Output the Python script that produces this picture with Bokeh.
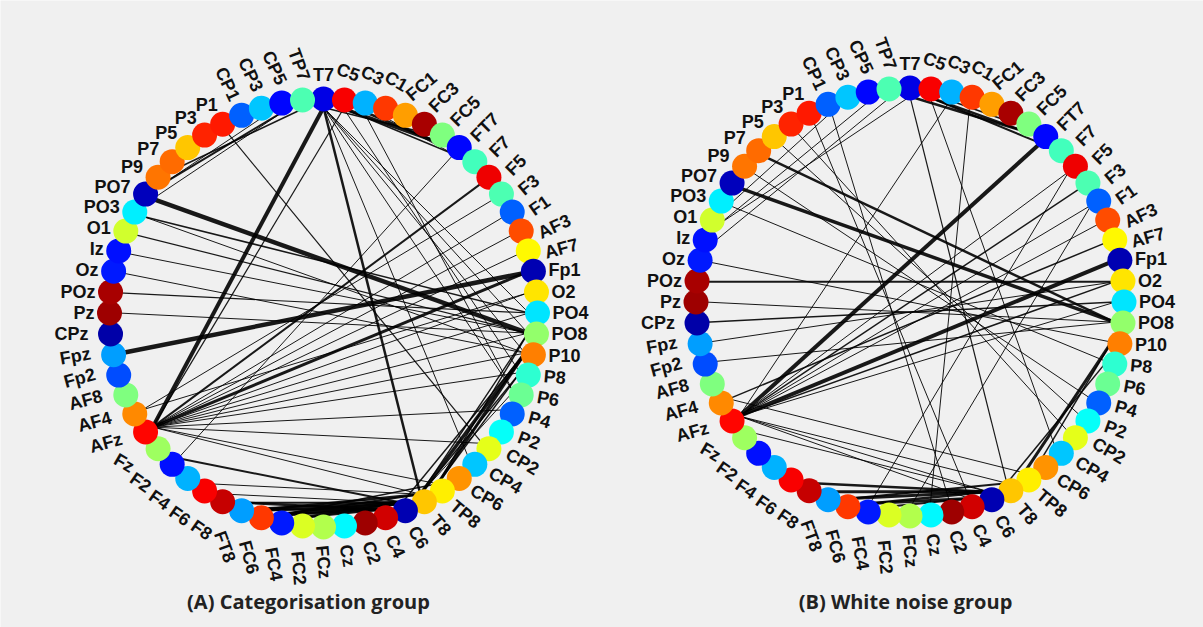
import numpy as np
from bokeh.plotting import figure
from bokeh.models import Range1d, ColumnDataSource
from bokeh.core.properties import value
from bokeh.embed import file_html
from bokeh.resources import INLINE

# ---- data -------------------------------------------------------------
# Channels in drawing order, clockwise from the top of the ring
channels = [
    "T7", "C5", "C3", "C1", "FC1", "FC3", "FC5", "FT7", "F7", "F5", "F3", "F1",
    "AF3", "AF7", "Fp1", "O2", "PO4", "PO8", "P10", "P8", "P6", "P4", "P2", "CP2",
    "CP4", "CP6", "TP8", "T8", "C6", "C4", "C2", "Cz", "FCz", "FC2", "FC4", "FC6",
    "FT8", "F8", "F6", "F4", "F2", "Fz", "AFz", "AF4", "AF8", "Fp2", "Fpz", "CPz",
    "Pz", "POz", "Oz", "Iz", "O1", "PO3", "PO7", "P9", "P7", "P5", "P3", "P1",
    "CP1", "CP3", "CP5", "TP7",
]

# Node value per channel (mapped through the jet colormap)
node_level = [
    0.10, 0.88, 0.30, 0.82, 0.72, 0.96, 0.50, 0.13, 0.44, 0.89, 0.45, 0.22,
    0.80, 0.63, 0.05, 0.65, 0.35, 0.52, 0.75, 0.42, 0.48, 0.22, 0.38, 0.60,
    0.32, 0.73, 0.64, 0.68, 0.05, 0.92, 0.97, 0.37, 0.55, 0.59, 0.15, 0.82,
    0.28, 0.93, 0.88, 0.30, 0.14, 0.53, 0.87, 0.74, 0.50, 0.20, 0.28, 0.04,
    0.97, 0.96, 0.15, 0.14, 0.58, 0.36, 0.06, 0.76, 0.77, 0.68, 0.84, 0.85,
    0.22, 0.32, 0.13, 0.45,
]

# Connections (channel, channel, strength)
edges_categorisation = [
    ("PO7", "PO8", 4.5), ("Fpz", "Fp1", 4.5), ("T7", "AFz", 4.0), ("AFz", "Fp1", 3.0),
    ("T7", "T8", 2.5), ("F5", "AFz", 2.0), ("PO3", "PO4", 1.5), ("O1", "PO8", 1.2),
    ("PO3", "P10", 1.0), ("POz", "PO4", 1.2), ("Oz", "P10", 1.0), ("Iz", "PO8", 1.0),
    ("Pz", "PO8", 1.0), ("T7", "PO4", 1.0), ("T7", "PO8", 1.0), ("T7", "P10", 1.0),
    ("T7", "P6", 1.0), ("T7", "CP4", 1.0), ("C5", "P8", 1.0), ("C3", "P6", 1.0),
    ("C5", "FC5", 3.5), ("C3", "FC5", 2.5), ("T7", "FC3", 1.5), ("C5", "FT7", 1.5),
    ("C1", "FT7", 1.0), ("FT7", "F2", 1.0), ("C5", "AFz", 1.2),
    ("AFz", "AF7", 1.0), ("AFz", "AF3", 1.0), ("AFz", "F1", 1.0), ("AFz", "O2", 1.0),
    ("AFz", "PO4", 1.0), ("AFz", "PO8", 1.0), ("AFz", "P10", 1.0), ("AFz", "P8", 1.0),
    ("AFz", "P4", 1.0), ("AFz", "CP2", 1.0), ("AFz", "TP8", 1.0), ("AFz", "T8", 1.0),
    ("AF4", "F3", 1.0), ("AF4", "O2", 1.0),
    ("P10", "T8", 3.5), ("P10", "TP8", 3.0), ("PO8", "T8", 1.5), ("P8", "TP8", 1.5),
    ("P6", "T8", 1.0), ("P10", "C6", 1.5), ("P8", "T8", 1.5), ("PO8", "TP8", 1.5),
    ("C6", "FC6", 4.5), ("C6", "FC4", 4.5), ("T8", "FC6", 2.5), ("C4", "FT8", 2.5),
    ("C6", "FT8", 2.0), ("C6", "F8", 1.0), ("T8", "F6", 1.0), ("C4", "FC6", 2.5),
    ("TP8", "FC4", 1.5), ("F2", "C6", 2.0), ("C6", "FC2", 3.0), ("C4", "FC4", 3.0),
    ("T8", "FC4", 2.0), ("C4", "FC2", 2.0),
    ("CP5", "P9", 2.0), ("TP7", "P7", 1.5), ("CP3", "P9", 1.0), ("CP5", "PO7", 1.0),
    ("P1", "CP2", 1.2),
]

edges_white_noise = [
    ("AFz", "FT7", 4.0), ("AFz", "Fp1", 4.0), ("PO7", "PO8", 3.5), ("P7", "PO8", 2.5),
    ("POz", "O2", 2.0), ("CPz", "PO4", 1.5), ("Fpz", "O2", 1.0), ("Pz", "PO8", 1.0),
    ("Oz", "P10", 1.0), ("PO3", "P8", 1.0), ("AF4", "AF7", 1.5), ("AFz", "F3", 1.5),
    ("AFz", "F1", 1.0), ("AFz", "AF3", 1.0), ("AFz", "O2", 1.5), ("AFz", "PO4", 1.0),
    ("AFz", "F5", 1.0), ("AFz", "C6", 1.0), ("AFz", "T8", 1.0), ("AFz", "C4", 1.0),
    ("AF4", "TP8", 1.0), ("Fz", "C6", 1.0), ("C3", "AFz", 1.0),
    ("FT8", "C6", 3.0), ("F8", "C6", 2.5), ("FC6", "C6", 3.0), ("FC4", "C4", 3.0),
    ("FC6", "T8", 2.0), ("FC4", "C6", 2.5), ("FC2", "C4", 2.0),
    ("P10", "TP8", 3.0), ("P8", "T8", 1.5), ("P10", "CP6", 1.5),
    ("T7", "FC5", 2.5), ("C5", "FT7", 2.0), ("C5", "FC5", 2.5), ("C3", "FC3", 1.5),
    ("CP5", "O1", 1.0), ("TP7", "Iz", 1.0), ("CP1", "PO3", 1.0),
    ("T7", "T8", 1.2), ("T7", "O1", 1.0), ("C5", "CP4", 1.0), ("P3", "CP2", 1.0),
    ("P1", "C4", 1.0), ("CP1", "C2", 1.0), ("P5", "P2", 1.0), ("F1", "FCz", 1.0),
    ("F5", "FC4", 1.0), ("P9", "P4", 1.0), ("Fp2", "PO8", 1.0), ("C1", "Cz", 1.0),
]

panel_titles = ["(A) Categorisation group", "(B) White noise group"]

# ---- layout / style ---------------------------------------------------
W, H = 1203, 627
RADIUS = 214
CENTRES = [(323.0, 314.5), (909.5, 325.5)]
TITLE_X = [308.0, 905.0]
TITLE_Y = 26.0
FONT_PX = 18
GAP_X, GAP_Y = 15.0, 18.0
LOWER_LEFT_EXTRA = 7.0
BG = "#f0f0f0"

# label tilt (degrees) for each ring position
LABEL_TILT = [
    0, -20, -25, -30, 40, 45, 45, 45, 45, 45, 40, 35,
    25, 15, 0, 0, 0, 0, 0, -5, -10, -15, -20, -30,
    -30, -30, -40, -50, -60, -65, -70, -80, -85, -85, -80, -75,
    -70, -35, -35, -35, -35, -30, 15, 15, 15, 15, 10, 0,
    0, 0, 0, 0, 0, 0, 0, 0, 0, 0, 0, 0,
    -65, -65, -65, -70,
]

CHAR_EM = {"F": 0.611, "C": 0.722, "P": 0.667, "T": 0.611, "A": 0.722,
           "O": 0.778, "I": 0.278, "z": 0.5, "p": 0.611}


def jet(v):
    r = np.clip(1.5 - abs(4 * v - 3), 0, 1)
    g = np.clip(1.5 - abs(4 * v - 2), 0, 1)
    b = np.clip(1.5 - abs(4 * v - 1), 0, 1)
    return "#%02x%02x%02x" % (int(r * 255), int(g * 255), int(b * 255))


def text_width(s):
    return sum(CHAR_EM.get(ch, 0.556) for ch in s) * FONT_PX


n = len(channels)
theta = np.deg2rad(90.0 - 360.0 / n * np.arange(n))
colours = [jet(v) for v in node_level]
index = {c: i for i, c in enumerate(channels)}

p = figure(width=W, height=H, x_range=Range1d(0, W), y_range=Range1d(0, H),
           x_axis_type=None, y_axis_type=None, toolbar_location=None,
           output_backend="svg", min_border=0,
           background_fill_color=BG, border_fill_color=BG, outline_line_color=None)

for (cx, cy), edges, title, tx in zip(CENTRES, [edges_categorisation, edges_white_noise],
                                      panel_titles, TITLE_X):
    # connections
    inner = RADIUS * 0.96
    xs, ys, lw = [], [], []
    for a, b, w in edges:
        i, j = index[a], index[b]
        xs.append([cx + inner * np.cos(theta[i]), cx + inner * np.cos(theta[j])])
        ys.append([cy + inner * np.sin(theta[i]), cy + inner * np.sin(theta[j])])
        lw.append(w)
    p.multi_line(xs="xs", ys="ys", line_width="lw", line_color="#000000", line_alpha=0.9,
                 source=ColumnDataSource(dict(xs=xs, ys=ys, lw=lw)))

    # channel nodes
    nx = cx + RADIUS * np.cos(theta)
    ny = cy + RADIUS * np.sin(theta)
    p.scatter(x=nx, y=ny, size=25, fill_color=colours, line_color=None)

    # channel labels: box of the tilted text pushed out from its node
    lx, ly, ang = [], [], []
    for i in range(n):
        c, s = np.cos(theta[i]), np.sin(theta[i])
        r = np.deg2rad(LABEL_TILT[i])
        hw = 0.5 * text_width(channels[i])
        hh = 0.36 * FONT_PX
        hx = hw * abs(np.cos(r)) + hh * abs(np.sin(r))
        hy = hw * abs(np.sin(r)) + hh * abs(np.cos(r))
        fx = np.sign(c) * min(1.0, 1.3 * abs(c))
        fy = np.sign(s) * s * s
        extra = LOWER_LEFT_EXTRA if (c < -0.05 and s < -0.05) else 0.0
        lx.append(nx[i] + fx * (GAP_X + hx + extra))
        ly.append(ny[i] + fy * (GAP_Y + hy + extra))
        ang.append(r)
    p.text(x="x", y="y", text="t", angle="a",
           source=ColumnDataSource(dict(x=lx, y=ly, t=channels, a=ang)),
           text_align="center", text_baseline="middle",
           text_font=value("Liberation Sans"), text_font_style="bold",
           text_font_size=f"{FONT_PX}px", text_color="#111111")

    # panel title
    p.text(x=[tx], y=[TITLE_Y], text=[title], text_align="center", text_baseline="middle",
           text_font=value("Open Sans"), text_font_style="bold",
           text_font_size="20px", text_color="#222222")

open("out.html", "w").write(file_html(p, INLINE))
